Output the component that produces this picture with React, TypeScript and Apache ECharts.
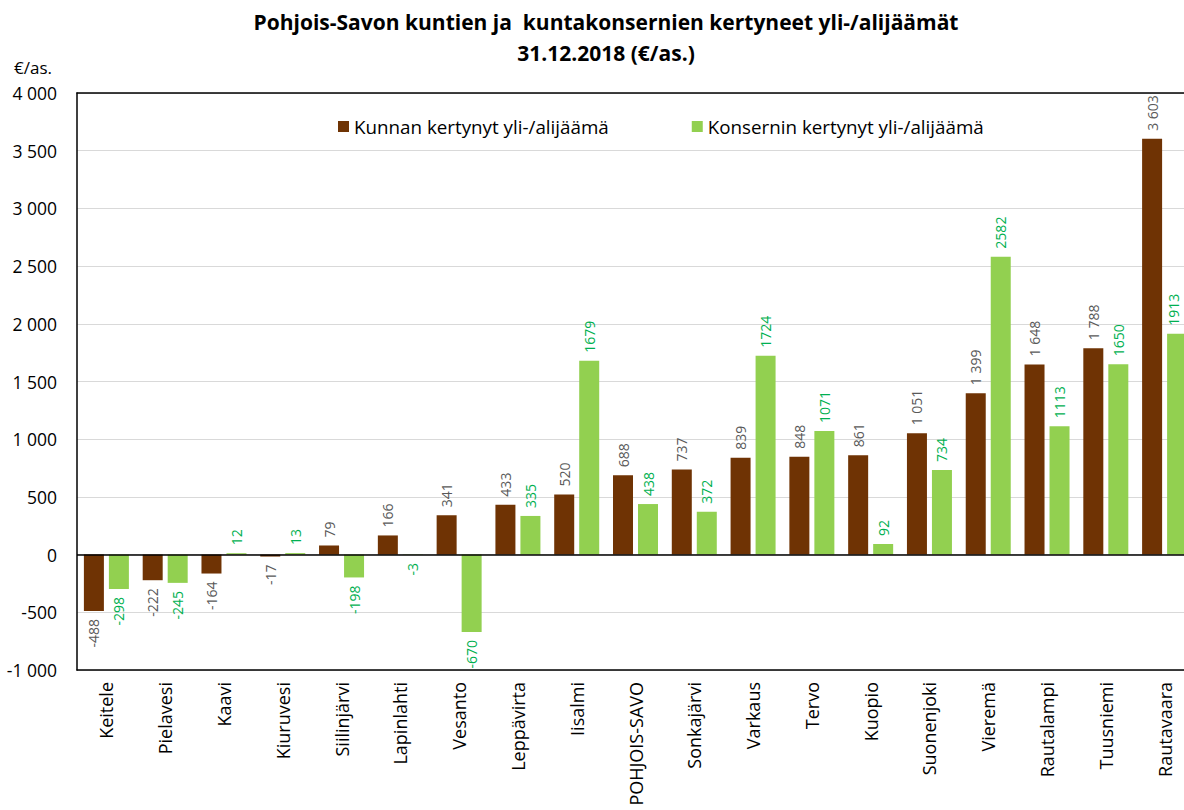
import React, { useEffect, useRef } from "react";
import * as echarts from "echarts";

const categories = [
  "Keitele", "Pielavesi", "Kaavi", "Kiuruvesi", "Siilinjärvi", "Lapinlahti", "Vesanto",
  "Leppävirta", "Iisalmi", "POHJOIS-SAVO", "Sonkajärvi", "Varkaus", "Tervo", "Kuopio",
  "Suonenjoki", "Vieremä", "Rautalampi", "Tuusniemi", "Rautavaara",
];
const kunta = [-488, -222, -164, -17, 79, 166, 341, 433, 520, 688, 737, 839, 848, 861, 1051, 1399, 1648, 1788, 3603];
const konserni = [-298, -245, 12, 13, -198, -3, -670, 335, 1679, 438, 372, 1724, 1071, 92, 734, 2582, 1113, 1650, 1913];
const seriesNames = ["Kunnan kertynyt yli-/alijäämä", "Konsernin kertynyt yli-/alijäämä"];
const titleLines = ["Pohjois-Savon kuntien ja  kuntakonsernien kertyneet yli-/alijäämät", "31.12.2018 (€/as.)"];
const unitLabel = "€/as.";

const BROWN = "#6F3304";
const GREEN = "#92D050";
const FONT = "Open Sans";

const spaced = (v: number) => {
  const s = Math.abs(v).toString().replace(/\B(?=(\d{3})+(?!\d))/g, " ");
  return (v < 0 ? "-" : "") + s;
};

const mkData = (arr: number[], lastShift = 0) =>
  arr.map((v, i) => ({
    value: v,
    label: {
      position: v < 0 ? "bottom" : "top",
      align: v < 0 ? "right" : "left",
      verticalAlign: "middle",
      offset: i === arr.length - 1 ? [0, lastShift] : [0, 0],
    },
  }));

export default function App() {
  const ref = useRef<HTMLDivElement>(null);
  useEffect(() => {
    if (!ref.current) return;
    const chart = echarts.init(ref.current, null, { renderer: "svg" });
    const labelBase = { show: true, rotate: 90, distance: 8, fontSize: 14, lineHeight: 10, fontFamily: FONT };
    chart.setOption({
      animation: false,
      textStyle: { fontFamily: FONT },
      graphic: [
        { type: "text", x: 606, y: 22, style: { text: titleLines[0], font: `bold 21px '${FONT}'`, fill: "#000", align: "center", verticalAlign: "middle" } },
        { type: "text", x: 606, y: 53, style: { text: titleLines[1], font: `bold 21px '${FONT}'`, fill: "#000", align: "center", verticalAlign: "middle" } },
        { type: "text", x: 14, y: 67, style: { text: unitLabel, font: `17px '${FONT}'`, fill: "#000", align: "left", verticalAlign: "middle" } },
      ],
      legend: {
        left: 333,
        top: 112,
        itemWidth: 11,
        itemHeight: 11,
        itemGap: 83,
        icon: "rect",
        textStyle: { fontSize: 18.8, color: "#000", fontFamily: FONT },
        data: seriesNames,
      },
      grid: { left: 77, right: 0, top: 93, bottom: 140 },
      xAxis: [
        {
          type: "category",
          data: categories,
          position: "bottom",
          axisLine: { onZero: false, lineStyle: { color: "#000", width: 1.5 } },
          axisTick: { show: false },
          axisLabel: { interval: 0, rotate: 90, margin: 12, fontSize: 18, color: "#000", fontFamily: FONT },
        },
        {
          type: "category",
          data: categories,
          position: "top",
          axisLine: { onZero: false, lineStyle: { color: "#000", width: 1.5 } },
          axisTick: { show: false },
          axisLabel: { show: false },
        },
      ],
      yAxis: {
        type: "value",
        min: -1000,
        max: 4000,
        interval: 500,
        axisLine: { show: true, lineStyle: { color: "#000", width: 1.5 } },
        axisTick: { show: false },
        splitLine: { lineStyle: { color: "#D9D9D9", width: 1 } },
        axisLabel: { formatter: (v: number) => spaced(v), fontSize: 17.5, color: "#000", margin: 20, fontFamily: FONT },
      },
      series: [
        {
          name: seriesNames[0],
          type: "bar",
          data: mkData(kunta),
          itemStyle: { color: BROWN },
          barWidth: 20,
          barGap: "25%",
          label: { ...labelBase, color: "#595959", formatter: (p: any) => spaced(p.value) },
          markLine: {
            silent: true,
            symbol: "none",
            label: { show: false },
            lineStyle: { color: "#000", width: 1.5, type: "solid" },
            data: [{ yAxis: 0 }],
          },
        },
        {
          name: seriesNames[1],
          type: "bar",
          data: mkData(konserni, -4),
          itemStyle: { color: GREEN },
          barWidth: 20,
          barGap: "25%",
          label: { ...labelBase, color: "#00B050", formatter: (p: any) => String(p.value) },
        },
      ],
    });
    return () => chart.dispose();
  }, []);
  return (
    <div
      ref={ref}
      style={{ position: "fixed", left: 0, top: 0, width: 1194, height: 810, background: "#fff" }}
    />
  );
}
